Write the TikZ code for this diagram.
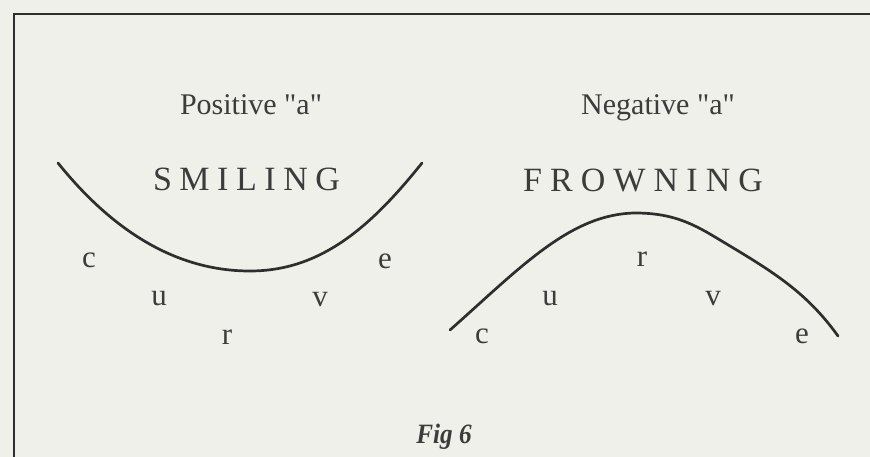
\documentclass[tikz,border=0pt]{standalone}
\usepackage{fontspec}
\setmainfont{Liberation Serif}
\newfontfamily\plainserif{Liberation Serif}
\definecolor{paper}{HTML}{F0F0EA}
\definecolor{ink}{HTML}{2E2E2E}
\definecolor{txt}{HTML}{3C3C3C}
\begin{document}
\begin{tikzpicture}[x=1pt,y=-1pt,
  lbl/.style={anchor=base,inner sep=0pt,text=txt,font=\plainserif\fontsize{30}{30}\selectfont},
  ltr/.style={anchor=base,inner sep=0pt,text=txt,font=\fontsize{31}{31}\selectfont},
  big/.style={anchor=base,inner sep=0pt,text=txt,font=\fontsize{34}{34}\selectfont},
  figcap/.style={anchor=base,inner sep=0pt,text=txt,font=\fontsize{28}{28}\selectfont\bfseries\itshape},
  curveline/.style={draw=ink,line width=2.7pt,line cap=round},
  frame/.style={draw=ink,line width=2.4pt}]
\fill[paper] (0,0) rectangle (870,457);
\useasboundingbox (0,0) rectangle (870,457);
% frame
\coordinate (fbl) at (14,457);
\coordinate (ftl) at (14,14);
\coordinate (ftr) at (870,14);
\draw[frame] (fbl) -- (ftl) -- (ftr);
% titles
\node[lbl] (pos) at (251,115) {Positive "a"};
\node[lbl] (neg) at (658,115) {Negative "a"};
\node[big] (smile) at (246.5,191) {\makebox[187pt][s]{S\hfil M\hfil I\hfil L\hfil I\hfil N\hfil G}};
\node[big] (frown) at (643,192) {\makebox[240pt][s]{F\hfil R\hfil O\hfil W\hfil N\hfil I\hfil N\hfil G}};
% smiling curve
\draw[curveline] (58,163) .. controls (120,240) and (185,271) .. (250,271)
  .. controls (320,271) and (370,228) .. (422,163);
% frowning curve
\draw[curveline] (450,330) .. controls (520,268) and (570,214) .. (635,213)
  .. controls (670,213) and (690,222) .. (715,237)
  .. controls (770,270) and (805,290) .. (838,336);
% letters smiling
\node[ltr] (sc) at (89,267) {c};
\node[ltr] (su) at (159,305) {u};
\node[ltr] (sr) at (227,344) {r};
\node[ltr] (sv) at (320,306) {v};
\node[ltr] (se) at (385,268) {e};
% letters frowning
\node[ltr] (fc) at (482,343) {c};
\node[ltr] (fu) at (550,305) {u};
\node[ltr] (fr) at (642,266) {r};
\node[ltr] (fv) at (713,305) {v};
\node[ltr] (fe) at (802,343) {e};
% caption
\node[figcap] (fig) at (444,443) {\scalebox{0.9}[1]{Fig 6}};
\end{tikzpicture}
\end{document}
